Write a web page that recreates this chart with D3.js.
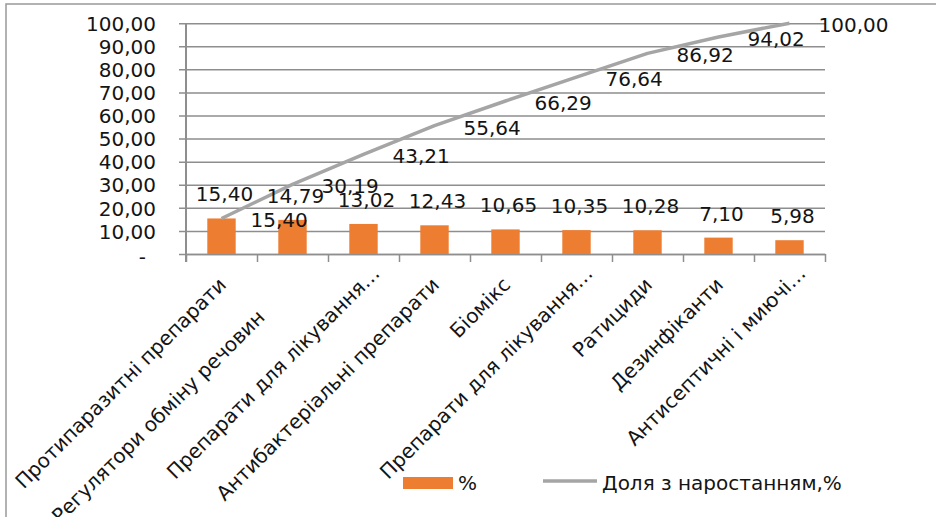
<!DOCTYPE html>
<html>
<head>
<meta charset="utf-8">
<script src="https://cdn.jsdelivr.net/npm/d3@7"></script>
<style>
  html, body { margin: 0; padding: 0; background: #ffffff; }
  svg { display: block; }
  text { font-family: "DejaVu Sans", sans-serif; fill: #141414; }
</style>
</head>
<body>
<script>
const categories = [
  "Протипаразитні препарати",
  "Регулятори обміну речовин",
  "Препарати для лікування…",
  "Антибактеріальні препарати",
  "Біомікс",
  "Препарати для лікування…",
  "Ратициди",
  "Дезинфіканти",
  "Антисептичні і миючі…"
];
const shares = [15.40, 14.79, 13.02, 12.43, 10.65, 10.35, 10.28, 7.10, 5.98];
const cumulative = [15.40, 30.19, 43.21, 55.64, 66.29, 76.64, 86.92, 94.02, 100.00];
const yTicks = [0, 10, 20, 30, 40, 50, 60, 70, 80, 90, 100];
const seriesNames = ["%", "Доля з наростанням,%"];

// layout: shift of each rotated category label along its own direction (px)
const labelShift = [0, -46, 16, 0, 0, 16, 0, 0, 16];

const W = 936, H = 517;
const plotL = 186, plotR = 825, plotT = 23.2, plotB = 254;
const barColor = "#ED7D31", lineColor = "#A5A5A5", gridColor = "#8E8E8E";
const FS = 20;

const fmt = v => v === 0 ? "-" : d3.format(".2f")(v).replace(".", ",");

const svg = d3.select("body").append("svg").attr("width", W).attr("height", H);

// frame
svg.append("path").attr("d", `M6,${H} L6,4 L${W},4`)
  .attr("fill", "none").attr("stroke", "#999").attr("stroke-width", 1.5);

const idx = d3.range(categories.length);
const x = d3.scaleBand().domain(idx).range([plotL, plotR]).paddingInner(0.6).paddingOuter(0.3);
const xb = d3.scaleLinear().domain([0, categories.length]).range([plotL, plotR]);
const y = d3.scaleLinear().domain([0, 100]).range([plotB, plotT]);
const cx = i => x(i) + x.bandwidth() / 2;

// y gridlines + labels
const yAxis = d3.axisLeft(y).tickValues(yTicks).tickFormat(fmt)
  .tickSizeInner(-(plotR - (plotL - 7))).tickSizeOuter(0).tickPadding(23);
const gy = svg.append("g").attr("transform", `translate(${plotL - 7},0)`).call(yAxis);
gy.select(".domain").remove();
gy.selectAll(".tick line").attr("stroke", gridColor).attr("stroke-width", 1.5);
gy.selectAll(".tick text").attr("font-size", FS).attr("font-family", "DejaVu Sans")
  .attr("fill", "#141414").attr("dy", "0.36em");
gy.selectAll(".tick").filter(d => d === 0).select("text").attr("dx", -10).attr("dy", "0.45em");

// vertical axis line
svg.append("line").attr("x1", plotL).attr("x2", plotL).attr("y1", y(100)).attr("y2", plotB + 8)
  .attr("stroke", gridColor).attr("stroke-width", 2);

// x axis with boundary ticks
const xAxis = d3.axisBottom(xb).tickValues(d3.range(categories.length + 1)).tickFormat("")
  .tickSizeInner(8).tickSizeOuter(0);
const gx = svg.append("g").attr("transform", `translate(0,${plotB})`).call(xAxis);
gx.select(".domain").attr("stroke", gridColor).attr("stroke-width", 1.5);
gx.selectAll(".tick line").attr("stroke", gridColor).attr("stroke-width", 1.5);

// bars
svg.append("g").selectAll("rect").data(shares).join("rect")
  .attr("x", (d, i) => x(i)).attr("width", x.bandwidth())
  .attr("y", d => y(d)).attr("height", d => plotB - y(d))
  .attr("fill", barColor);

// cumulative line
const line = d3.line().x((d, i) => cx(i)).y(d => y(d));
svg.append("path").datum(cumulative).attr("d", line)
  .attr("fill", "none").attr("stroke", lineColor).attr("stroke-width", 3.5)
  .attr("stroke-linejoin", "round");

// bar labels
svg.append("g").selectAll("text").data(shares).join("text")
  .attr("x", (d, i) => cx(i) + 3).attr("y", d => y(d) - 17)
  .attr("text-anchor", "middle").attr("font-size", FS)
  .text(d => fmt(d));

// line labels (right of points)
svg.append("g").selectAll("text").data(cumulative).join("text")
  .attr("x", (d, i) => cx(i) + 29).attr("y", d => y(d) + 9)
  .attr("text-anchor", "start").attr("font-size", FS)
  .text(d => fmt(d));

// category labels
const k = Math.SQRT1_2;
svg.append("g").selectAll("text").data(categories).join("text")
  .attr("transform", (d, i) => {
    const s = labelShift[i];
    return `translate(${cx(i) + 6 + s * k},${plotB + 32 - s * k}) rotate(-45)`;
  })
  .attr("text-anchor", "end").attr("font-size", FS)
  .text(d => d);

// legend
const lg = svg.append("g");
lg.append("rect").attr("x", 403).attr("y", 477).attr("width", 50).attr("height", 12).attr("fill", barColor);
lg.append("text").attr("x", 458).attr("y", 490).attr("font-size", FS).text(seriesNames[0]);
lg.append("line").attr("x1", 543).attr("x2", 597).attr("y1", 481).attr("y2", 481)
  .attr("stroke", lineColor).attr("stroke-width", 3.5);
lg.append("text").attr("x", 602).attr("y", 490).attr("font-size", FS).text(seriesNames[1]);
</script>
</body>
</html>
